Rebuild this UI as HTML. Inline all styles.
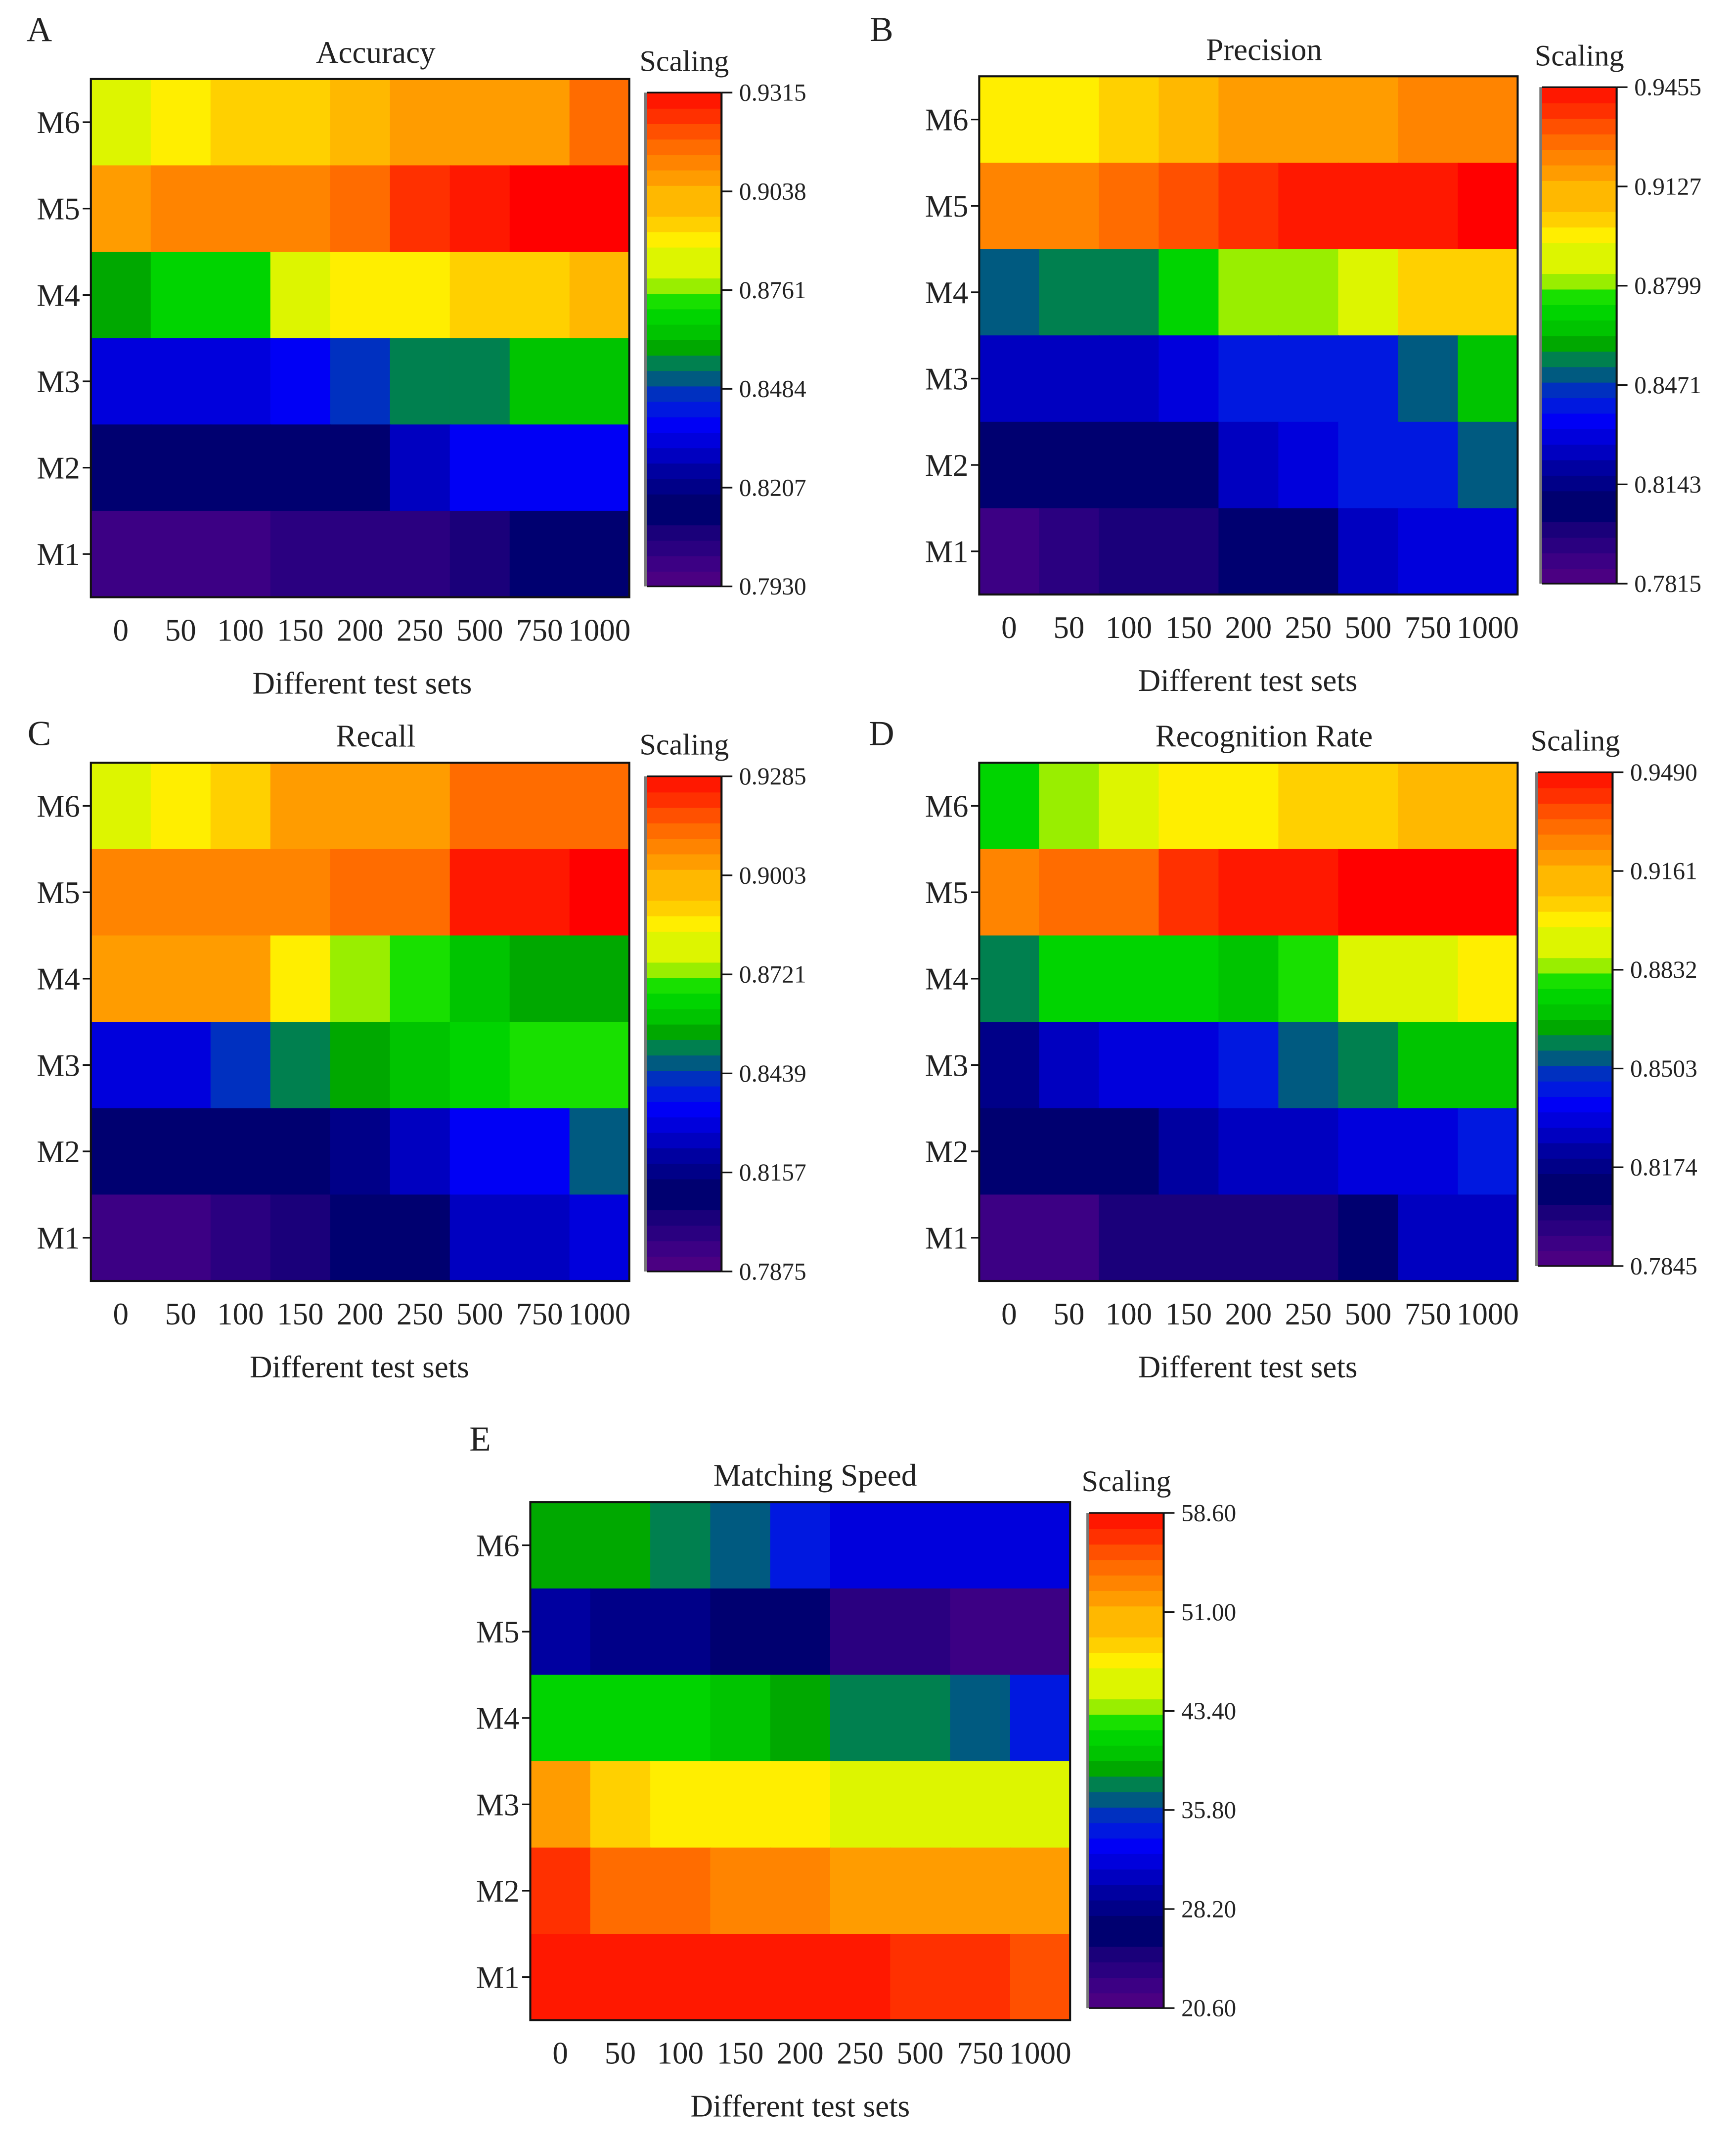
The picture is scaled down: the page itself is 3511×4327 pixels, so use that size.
<!DOCTYPE html>
<html><head><meta charset="utf-8"><style>
html,body{margin:0;padding:0;background:#fff}
svg{display:block}
text{font-family:"Liberation Serif",serif;fill:#222}
</style></head><body>
<svg id="fig" width="3511" height="4327" viewBox="0 0 1280 1577" xmlns="http://www.w3.org/2000/svg"></svg>
<script>
const rowLabels = ["M6","M5","M4","M3","M2","M1"];
const colLabels = ["0","50","100","150","200","250","500","750","1000"];
// scaled level (0 = bottom of colorbar, 1 = top) read per cell, rows M6..M1
const accuracy = [
[0.66,0.70,0.74,0.74,0.78,0.82,0.82,0.82,0.89],
[0.82,0.86,0.86,0.86,0.89,0.95,0.97,1.0,1.0],
[0.50,0.55,0.55,0.66,0.69,0.69,0.74,0.74,0.78],
[0.29,0.31,0.31,0.33,0.38,0.45,0.45,0.53,0.53],
[0.15,0.17,0.17,0.17,0.17,0.26,0.32,0.32,0.32],
[0.05,0.05,0.05,0.10,0.10,0.10,0.13,0.17,0.17]];
const precision = [
[0.69,0.69,0.74,0.78,0.82,0.82,0.82,0.86,0.86],
[0.86,0.86,0.89,0.92,0.95,0.97,0.97,0.97,1.0],
[0.42,0.45,0.45,0.55,0.62,0.62,0.66,0.74,0.74],
[0.28,0.28,0.28,0.29,0.36,0.36,0.36,0.42,0.53],
[0.17,0.17,0.17,0.17,0.27,0.30,0.36,0.36,0.42],
[0.05,0.10,0.12,0.12,0.15,0.18,0.26,0.31,0.31]];
const recall = [
[0.66,0.70,0.74,0.80,0.80,0.84,0.88,0.88,0.88],
[0.85,0.85,0.85,0.85,0.88,0.88,0.97,0.97,1.0],
[0.80,0.80,0.80,0.70,0.62,0.57,0.53,0.50,0.50],
[0.31,0.31,0.38,0.45,0.50,0.53,0.55,0.57,0.57],
[0.14,0.17,0.17,0.17,0.22,0.28,0.32,0.32,0.42],
[0.05,0.05,0.08,0.11,0.17,0.17,0.27,0.27,0.30]];
const recognition = [
[0.56,0.62,0.66,0.70,0.70,0.74,0.74,0.78,0.78],
[0.85,0.88,0.88,0.94,0.97,0.97,1.0,1.0,1.0],
[0.45,0.55,0.55,0.55,0.53,0.57,0.66,0.66,0.70],
[0.22,0.28,0.31,0.31,0.37,0.42,0.45,0.53,0.53],
[0.14,0.14,0.17,0.24,0.28,0.28,0.31,0.31,0.36],
[0.05,0.05,0.11,0.11,0.13,0.13,0.17,0.26,0.26]];
const speed = [
[0.51,0.51,0.45,0.42,0.37,0.31,0.31,0.29,0.29],
[0.25,0.22,0.22,0.17,0.17,0.10,0.08,0.05,0.05],
[0.55,0.55,0.55,0.53,0.49,0.45,0.45,0.42,0.37],
[0.82,0.76,0.70,0.70,0.70,0.66,0.66,0.66,0.66],
[0.94,0.90,0.90,0.87,0.87,0.84,0.84,0.84,0.80],
[0.98,0.98,0.98,0.98,0.98,0.98,0.95,0.95,0.93]];
const ticksA = ["0.9315","0.9038","0.8761","0.8484","0.8207","0.7930"];
const ticksB = ["0.9455","0.9127","0.8799","0.8471","0.8143","0.7815"];
const ticksC = ["0.9285","0.9003","0.8721","0.8439","0.8157","0.7875"];
const ticksD = ["0.9490","0.9161","0.8832","0.8503","0.8174","0.7845"];
const ticksE = ["58.60","51.00","43.40","35.80","28.20","20.60"];

const stops=[[0.01,"#4b0082"],[0.06,"#3c0084"],[0.09,"#2a0080"],[0.12,"#1a007a"],[0.16,"#000070"],[0.20,"#000088"],[0.24,"#0000a0"],[0.27,"#0000c0"],[0.30,"#0000dc"],[0.33,"#0000f5"],[0.36,"#0018e0"],[0.385,"#0030c0"],[0.415,"#005a80"],[0.45,"#00804f"],[0.49,"#00a800"],[0.53,"#00c400"],[0.555,"#00d400"],[0.58,"#18e000"],[0.62,"#99ee00"],[0.66,"#ddf500"],[0.69,"#ffee00"],[0.74,"#ffd000"],[0.78,"#ffb800"],[0.82,"#ff9c00"],[0.86,"#ff8400"],[0.89,"#ff6c00"],[0.92,"#ff5000"],[0.95,"#ff3000"],[0.97,"#ff1800"],[1.0,"#ff0000"]];
function cmap(t){let best=stops[0],d=9;for(const s of stops){const dd=Math.abs(s[0]-t);if(dd<d){d=dd;best=s;}}return best[1];}

const NS="http://www.w3.org/2000/svg";
const svg=document.getElementById('fig');
function el(tag,attrs,parent){const e=document.createElementNS(NS,tag);for(const k in attrs)e.setAttribute(k,attrs[k]);(parent||svg).appendChild(e);return e;}
function txt(s,x,y,size,anchor,parent){const t=el('text',{x:x,y:y,'font-size':size,'text-anchor':anchor||'middle'},parent);t.textContent=s;return t;}

function panel(p){
  const g=el('g',{});
  
  
  const W=p.x1-p.x0,H=p.y1-p.y0,cw=W/9,rh=H/6;
  const xs=i=>p.x0+i*cw, ys=j=>p.y0+j*rh;
  p.data.forEach((row,j)=>row.forEach((v,i)=>{
    const r=el('rect',{x:xs(i),y:ys(j),width:cw+0.6,height:rh+0.6,fill:cmap(v)},g);
    
    
  }));
  el('rect',{x:p.x0,y:p.y0,width:W,height:H,fill:'none',stroke:'#111','stroke-width':1.5},g);
  rowLabels.forEach((l,j)=>{
    const cy=ys(j)+rh/2;
    el('line',{x1:p.x0-6,x2:p.x0,y1:cy,y2:cy,stroke:'#111','stroke-width':1.2},g);
    const t=txt(l,p.x0-8,cy+8,23,'end',g);
    
    
  });
  colLabels.forEach((l,i)=>{
    const t=txt(l,xs(i)+cw/2,p.y1+32,23,'middle',g);
    
    
  });
  const xt=txt('Different test sets',p.xt,p.y1+71,23,'middle',g);
  
  
  const tt=txt(p.title,p.tx,p.y0-12,23,'middle',g);
  
  
  const lt=txt(p.id,p.lx,p.ly,26,'middle',g);
  
  
  // colorbar
  const cb=el('g',{},g);
  
  
  const N=32,bh=(p.cy1-p.cy0)/N;
  for(let k=0;k<N;k++){
    const t=(k+0.5)/N;
    el('rect',{x:p.cx0,y:p.cy1-(k+1)*bh,width:p.cx1-p.cx0,height:bh+0.5,fill:cmap(t)},cb);
  }
  el('line',{x1:p.cx0-1,x2:p.cx0-1,y1:p.cy0,y2:p.cy1,stroke:'#777','stroke-width':2},cb);
  el('line',{x1:p.cx1,x2:p.cx1,y1:p.cy0,y2:p.cy1,stroke:'#111','stroke-width':1.5},cb);
  el('line',{x1:p.cx0,x2:p.cx1,y1:p.cy0,y2:p.cy0,stroke:'#111','stroke-width':1.2},cb);
  el('line',{x1:p.cx0,x2:p.cx1,y1:p.cy1,y2:p.cy1,stroke:'#111','stroke-width':1.2},cb);
  p.ticks.forEach((l,k)=>{
    const y=p.cy0+k*(p.cy1-p.cy0)/5;
    el('line',{x1:p.cx1,x2:p.cx1+8,y1:y,y2:y,stroke:'#111','stroke-width':1.2},cb);
    const t=txt(l,p.cx1+13,y+6,18,'start',cb);
    
    
  });
  const st=txt('Scaling',(p.cx0+p.cx1)/2,p.cy0-16,22,'middle',cb);
  
  
}
panel({id:'A',title:'Accuracy',data:accuracy,ticks:ticksA,x0:67,x1:464,y0:58,y1:440,tx:277,lx:29,ly:30,xt:267,cx0:477,cx1:532,cy0:68,cy1:432});
panel({id:'B',title:'Precision',data:precision,ticks:ticksB,x0:722,x1:1119,y0:56,y1:438,tx:932,lx:650,ly:30,xt:920,cx0:1137,cx1:1192,cy0:64,cy1:430});
panel({id:'C',title:'Recall',data:recall,ticks:ticksC,x0:67,x1:464,y0:562,y1:944,tx:277,lx:29,ly:549,xt:265,cx0:477,cx1:532,cy0:572,cy1:937});
panel({id:'D',title:'Recognition Rate',data:recognition,ticks:ticksD,x0:722,x1:1119,y0:562,y1:944,tx:932,lx:650,ly:549,xt:920,cx0:1134,cx1:1189,cy0:569,cy1:933});
panel({id:'E',title:'Matching Speed',data:speed,ticks:ticksE,x0:391,x1:789,y0:1107,y1:1489,tx:601,lx:354,ly:1069,xt:590,cx0:803,cx1:858,cy0:1115,cy1:1480});
</script>
</body></html>
